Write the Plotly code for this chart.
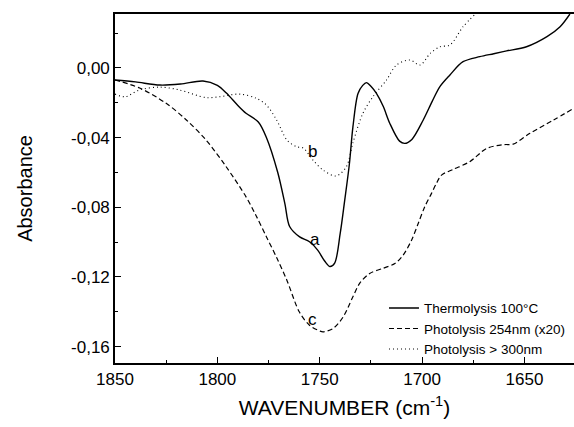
import plotly.graph_objects as go

# Thermolysis at 100 °C (solid)
wn_thermo = [1850, 1840, 1828, 1818, 1807, 1800, 1795.6, 1790, 1786, 1780, 1776,
             1770.5, 1767, 1764.7, 1759.8, 1755, 1751, 1747.5, 1745, 1742.7, 1740,
             1737.8, 1735.5, 1733.8, 1731.3, 1729, 1727.2, 1725, 1722.3, 1719,
             1715.8, 1711, 1708.5, 1705, 1699.5, 1695, 1691.3, 1686.4, 1680,
             1671.8, 1665, 1658.7, 1649, 1639, 1632.6, 1627.8]
abs_thermo = [-0.0069, -0.0080, -0.0098, -0.0092, -0.0075, -0.0100, -0.0144,
              -0.0215, -0.026, -0.031, -0.040, -0.060, -0.078, -0.091, -0.097,
              -0.0998, -0.1046, -0.111, -0.114, -0.112, -0.095, -0.076, -0.055,
              -0.034, -0.0146, -0.010, -0.0084, -0.0105, -0.0146, -0.022, -0.0317,
              -0.042, -0.0433, -0.041, -0.030, -0.019, -0.0107, -0.004, 0.0036,
              0.0065, 0.0082, 0.0098, 0.0122, 0.018, 0.0237, 0.031]

# Photolysis at 254 nm, scaled x20 (dashed)
wn_uv254 = [1850, 1838, 1825, 1815, 1805.5, 1795.7, 1786, 1781, 1776, 1771, 1766,
            1760, 1755, 1750, 1748.4, 1743.5, 1738.6, 1733.8, 1730.5, 1725.6,
            1719, 1713.3, 1709.3, 1705.2, 1701.9, 1698.7, 1695.4, 1693, 1690.5,
            1684.8, 1676.7, 1668.5, 1660, 1655.5, 1647.3, 1636, 1626]
abs_uv254 = [-0.0069, -0.0115, -0.0203, -0.030, -0.0414, -0.0567, -0.074, -0.085,
             -0.097, -0.109, -0.122, -0.140, -0.1477, -0.151, -0.1515, -0.1496,
             -0.143, -0.1314, -0.1237, -0.118, -0.115, -0.1123, -0.1075, -0.099,
             -0.0893, -0.0797, -0.072, -0.0663, -0.0615, -0.0582, -0.0538,
             -0.0462, -0.0440, -0.0437, -0.0375, -0.030, -0.0232]

# Photolysis above 300 nm (dotted)
wn_uv300 = [1850, 1845, 1838, 1828, 1818.6, 1805.6, 1799, 1789, 1781, 1776, 1771,
            1766, 1761.4, 1758, 1753.3, 1748.4, 1742, 1737, 1733.8, 1728.9, 1724,
            1717.4, 1712.5, 1706, 1701, 1696, 1691.3, 1686.4, 1680, 1674]
abs_uv300 = [-0.0150, -0.0165, -0.0126, -0.011, -0.0126, -0.017, -0.0165, -0.015,
             -0.0174, -0.0213, -0.030, -0.0414, -0.0452, -0.046, -0.0529, -0.0586,
             -0.062, -0.0567, -0.043, -0.026, -0.0165, -0.0069, 0.0017, 0.0046,
             0.0017, 0.0084, 0.0122, 0.0132, 0.0237, 0.031]

y_tickvals = [0.0, -0.04, -0.08, -0.12, -0.16]
y_ticktext = ["0,00", "-0,04", "-0,08", "-0,12", "-0,16"]
x_tickvals = [1850, 1800, 1750, 1700, 1650]
x_ticktext = ["1850", "1800", "1750", "1700", "1650"]

curve_labels = ["a", "b", "c"]
label_wn = [1752.5, 1753.5, 1753.5]
label_abs = [-0.0985, -0.0477, -0.1445]

FONT = "Liberation Sans, Arial, Helvetica, sans-serif"

fig = go.Figure()
fig.add_trace(go.Scatter(x=wn_thermo, y=abs_thermo, mode="lines",
                         name="Thermolysis 100°C",
                         line=dict(color="black", width=1.4, shape="spline", smoothing=0.9)))
fig.add_trace(go.Scatter(x=wn_uv254, y=abs_uv254, mode="lines",
                         name="Photolysis 254nm (x20)",
                         line=dict(color="black", width=1.2, dash="5px,3px",
                                   shape="spline", smoothing=0.9)))
fig.add_trace(go.Scatter(x=wn_uv300, y=abs_uv300, mode="lines",
                         name="Photolysis > 300nm",
                         line=dict(color="black", width=1.1, dash="1px,3px",
                                   shape="spline", smoothing=0.9)))

for txt, xv, yv in zip(curve_labels, label_wn, label_abs):
    fig.add_annotation(x=xv, y=yv, text=txt, showarrow=False,
                       font=dict(family=FONT, size=17, color="black"))

fig.update_layout(
    width=574, height=427,
    margin=dict(l=115, r=0, t=14, b=64),
    plot_bgcolor="white", paper_bgcolor="white",
    font=dict(family=FONT, color="black"),
    showlegend=True,
    legend=dict(x=0.586, y=0.2015, xanchor="left", yanchor="top",
                bgcolor="rgba(0,0,0,0)", font=dict(family=FONT, size=13.5),
                tracegroupgap=0, itemwidth=30),
    xaxis=dict(range=[1850, 1625.8], showgrid=False, zeroline=False,
               showline=True, linecolor="black", linewidth=1.6, mirror=True,
               ticks="inside", ticklen=6, tickwidth=1.2, tickcolor="black",
               tickvals=x_tickvals, ticktext=x_ticktext,
               tickfont=dict(family=FONT, size=17),
               minor=dict(ticks="inside", ticklen=3, tickwidth=1, dtick=25,
                          tickcolor="black", showgrid=False),
               title=dict(text="WAVENUMBER (cm<sup>-1</sup>)",
                          font=dict(family=FONT, size=21), standoff=12)),
    yaxis=dict(range=[-0.1694, 0.031], showgrid=False, zeroline=False,
               showline=True, linecolor="black", linewidth=1.6,
               ticks="inside", ticklen=6, tickwidth=1.2, tickcolor="black",
               tickvals=y_tickvals, ticktext=y_ticktext,
               tickfont=dict(family=FONT, size=17),
               minor=dict(ticks="inside", ticklen=3, tickwidth=1, dtick=0.02,
                          tickcolor="black", showgrid=False),
               title=dict(text="Absorbance",
                          font=dict(family=FONT, size=20), standoff=33)),
)

fig.write_html("out.html")
